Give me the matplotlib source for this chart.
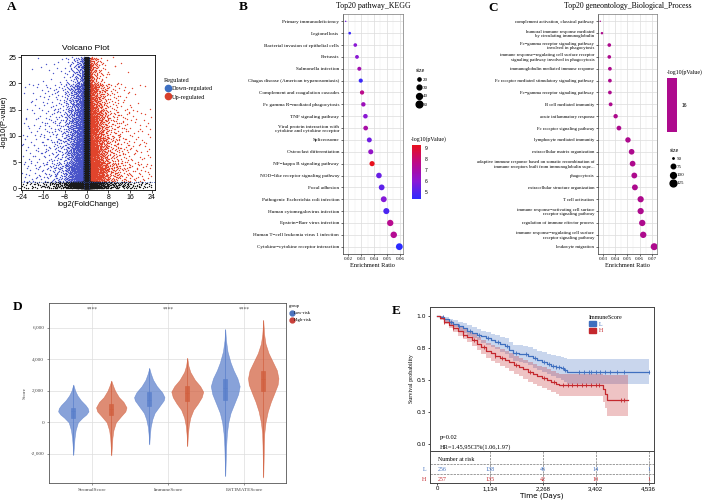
import numpy as np
import matplotlib

matplotlib.use("Agg")
import matplotlib.pyplot as plt
from matplotlib.cm import ScalarMappable
from matplotlib.colors import LinearSegmentedColormap, ListedColormap, Normalize
from matplotlib.font_manager import FontProperties
from matplotlib.lines import Line2D
from matplotlib.patches import Patch
from matplotlib.ticker import FuncFormatter, FormatStrFormatter, MultipleLocator

SERIF = ["Liberation Serif", "DejaVu Serif"]
SANS = ["Liberation Sans", "DejaVu Sans"]
plt.rcParams["font.family"] = SANS

# ---------------- A: volcano, point counts per (log2FC, -log10 p) cell
fc_edges = [-24, -20, -16, -12, -8, -6, -4, -2, -1, 1, 2, 4, 6, 8, 12, 16, 20, 24]
p_edges = [0, 1.3, 5, 10, 15, 20, 25]
volcano_counts = [
    [12, 12, 12, 8, 6, 1],
    [15, 15, 15, 12, 10, 3],
    [25, 25, 25, 20, 15, 4],
    [40, 50, 45, 35, 25, 8],
    [40, 60, 55, 45, 35, 12],
    [60, 110, 100, 80, 60, 25],
    [120, 220, 190, 150, 110, 55],
    [150, 200, 180, 160, 120, 60],
    [700, 800, 600, 500, 420, 300],
    [150, 230, 210, 180, 140, 70],
    [120, 240, 210, 170, 130, 60],
    [60, 130, 115, 95, 65, 22],
    [40, 80, 70, 55, 35, 8],
    [40, 70, 60, 45, 28, 5],
    [30, 35, 30, 22, 12, 2],
    [20, 20, 16, 12, 5, 0],
    [15, 14, 12, 8, 2, 0],
]

# ---------------- B: KEGG
kegg_terms = [
    "Primary immunodeficiency",
    "Legionellosis",
    "Bacterial invasion of epithelial cells",
    "Pertussis",
    "Salmonella infection",
    "Chagas disease (American trypanosomiasis)",
    "Complement and coagulation cascades",
    "Fc gamma R\u2212mediated phagocytosis",
    "TNF signaling pathway",
    "Viral protein interaction with\ncytokine and cytokine receptor",
    "Spliceosome",
    "Osteoclast differentiation",
    "NF\u2212kappa B signaling pathway",
    "NOD\u2212like receptor signaling pathway",
    "Focal adhesion",
    "Pathogenic Escherichia coli infection",
    "Human cytomegalovirus infection",
    "Epstein\u2212Barr virus infection",
    "Human T\u2212cell leukemia virus 1 infection",
    "Cytokine\u2212cytokine receptor interaction",
]
kegg_ratio = [0.0182, 0.0213, 0.0256, 0.0269, 0.0287, 0.0298, 0.0308, 0.0318, 0.0334, 0.0336,
              0.0364, 0.0375, 0.0385, 0.0438, 0.0459, 0.0475, 0.0495, 0.0525, 0.0552, 0.0595]
kegg_count = [16, 18, 22, 23, 24, 25, 26, 27, 28, 29, 31, 32, 33, 37, 39, 40, 42, 45, 47, 51]
kegg_logp = [5.6, 4.6, 6.0, 6.0, 6.8, 4.6, 7.6, 6.6, 6.0, 7.0,
             5.5, 6.3, 9.25, 5.4, 5.2, 5.9, 4.9, 7.5, 7.4, 4.35]

# ---------------- C: GO biological process
go_terms = [
    "complement activation, classical pathway",
    "humoral immune response mediated\nby circulating immunoglobulin",
    "Fc\u2212gamma receptor signaling pathway\ninvolved in phagocytosis",
    "immune response\u2212regulating cell surface receptor\nsignaling pathway involved in phagocytosis",
    "immunoglobulin mediated immune response",
    "Fc receptor mediated stimulatory signaling pathway",
    "Fc\u2212gamma receptor signaling pathway",
    "B cell mediated immunity",
    "acute inflammatory response",
    "Fc receptor signaling pathway",
    "lymphocyte mediated immunity",
    "extracellular matrix organization",
    "adaptive immune response based on somatic recombination of\nimmune receptors built from immunoglobulin supe...",
    "phagocytosis",
    "extracellular structure organization",
    "T cell activation",
    "immune response\u2212activating cell surface\nreceptor signaling pathway",
    "regulation of immune effector process",
    "immune response\u2212regulating cell surface\nreceptor signaling pathway",
    "leukocyte migration",
]
go_ratio = [0.0278, 0.0292, 0.0352, 0.0352, 0.0357, 0.0357, 0.0357, 0.0363, 0.0404, 0.0431,
            0.0505, 0.0535, 0.0543, 0.0557, 0.0562, 0.0609, 0.0609, 0.0622, 0.0630, 0.0720]
go_count = [50, 53, 63, 63, 64, 64, 64, 65, 73, 78, 91, 96, 98, 100, 101, 110, 110, 112, 113, 130]

# ---------------- D: ESTIMATE violins (score level, half width in category units)
score_names = ["StromalScore", "ImmuneScore", "ESTIMATEScore"]
stromal_low_y = [-2050, -1500, -1000, -500, 0, 300, 500, 700, 900, 1100, 1400, 1700, 2000, 2400]
stromal_low_w = [0, 0.008, 0.016, 0.03, 0.06, 0.12, 0.17, 0.2, 0.19, 0.16, 0.1, 0.055, 0.025, 0]
stromal_high_y = [-2100, -1500, -1000, -500, 0, 400, 700, 950, 1300, 1600, 2000, 2300, 2650]
stromal_high_w = [0, 0.008, 0.014, 0.028, 0.06, 0.13, 0.185, 0.2, 0.16, 0.1, 0.05, 0.025, 0]
immune_low_y = [-1400, -800, -300, 200, 600, 1000, 1400, 1600, 1900, 2300, 2700, 3100, 3450]
immune_low_w = [0, 0.008, 0.018, 0.04, 0.07, 0.13, 0.19, 0.2, 0.17, 0.1, 0.05, 0.02, 0]
immune_high_y = [-1500, -800, -200, 300, 800, 1200, 1600, 1950, 2300, 2700, 3200, 3600, 4100]
immune_high_w = [0, 0.008, 0.02, 0.04, 0.08, 0.14, 0.19, 0.21, 0.17, 0.1, 0.04, 0.015, 0]
estimate_low_y = [-3400, -2500, -1500, -700, 0, 600, 1200, 1800, 2300, 2800, 3300, 3800, 4500, 5200, 5900]
estimate_low_w = [0, 0.006, 0.012, 0.022, 0.04, 0.07, 0.12, 0.17, 0.19, 0.16, 0.11, 0.07, 0.03, 0.01, 0]
estimate_high_y = [-3500, -2500, -1500, -700, 0, 700, 1300, 1900, 2400, 2800, 3300, 3800, 4400, 5000,
                   5600, 6500]
estimate_high_w = [0, 0.005, 0.009, 0.014, 0.03, 0.06, 0.1, 0.15, 0.19, 0.2, 0.18, 0.13, 0.07, 0.03,
                   0.012, 0]
low_q1 = [300, 1020, 1440]
low_med = [700, 1440, 2180]
low_q3 = [900, 1900, 2780]
high_q1 = [490, 1330, 2020]
high_med = [850, 1860, 2770]
high_q3 = [1180, 2330, 3290]

# ---------------- E: Kaplan-Meier
t_L = [0, 60, 150, 250, 350, 450, 550, 650, 750, 850, 950, 1050, 1150, 1250, 1350, 1450, 1550, 1620,
       1750, 1850, 1950, 2050, 2150, 2250, 2350, 2450, 2550, 2650, 2720, 2780, 4536]
s_L = [1.0, 0.99, 0.975, 0.955, 0.94, 0.92, 0.905, 0.885, 0.87, 0.855, 0.84, 0.825, 0.81, 0.795, 0.78,
       0.765, 0.735, 0.71, 0.705, 0.70, 0.685, 0.67, 0.655, 0.64, 0.625, 0.61, 0.60, 0.59, 0.575, 0.565,
       0.565]
lo_L = [1.0, 0.975, 0.955, 0.93, 0.91, 0.885, 0.865, 0.845, 0.825, 0.81, 0.79, 0.775, 0.755, 0.74, 0.72,
        0.705, 0.67, 0.645, 0.64, 0.63, 0.615, 0.595, 0.58, 0.56, 0.545, 0.53, 0.515, 0.5, 0.485, 0.47,
        0.47]
hi_L = [1.0, 1.0, 0.995, 0.98, 0.97, 0.955, 0.945, 0.93, 0.915, 0.9, 0.885, 0.875, 0.86, 0.85, 0.835,
        0.825, 0.795, 0.775, 0.77, 0.765, 0.755, 0.74, 0.73, 0.72, 0.705, 0.695, 0.685, 0.68, 0.67, 0.665,
        0.665]
cens_L = [120, 300, 480, 700, 900, 1100, 1300, 1500, 1700, 1900, 2100, 2300, 2400, 2480, 2560, 2620,
          2700, 2750, 3050, 3150, 3250, 3300, 3400, 3500, 3600, 3700, 3850, 4000, 4536]

t_H = [0, 60, 150, 250, 350, 450, 550, 650, 750, 850, 950, 1050, 1150, 1250, 1350, 1450, 1550, 1650,
       1750, 1850, 1950, 2050, 2150, 2250, 2350, 2450, 2550, 2620, 3558, 3600, 3637, 4086]
s_H = [1.0, 0.985, 0.955, 0.93, 0.905, 0.88, 0.855, 0.835, 0.81, 0.785, 0.755, 0.73, 0.71, 0.69, 0.675,
       0.66, 0.64, 0.615, 0.60, 0.585, 0.56, 0.545, 0.53, 0.515, 0.50, 0.485, 0.47, 0.46, 0.43, 0.39,
       0.345, 0.345]
lo_H = [1.0, 0.97, 0.935, 0.905, 0.875, 0.845, 0.82, 0.795, 0.765, 0.735, 0.705, 0.675, 0.65, 0.63,
        0.61, 0.595, 0.57, 0.545, 0.53, 0.51, 0.485, 0.47, 0.45, 0.435, 0.42, 0.405, 0.39, 0.375, 0.33,
        0.28, 0.22, 0.22]
hi_H = [1.0, 1.0, 0.98, 0.96, 0.94, 0.92, 0.9, 0.88, 0.86, 0.835, 0.81, 0.79, 0.77, 0.755, 0.74,
        0.725, 0.71, 0.69, 0.675, 0.66, 0.64, 0.625, 0.61, 0.6, 0.585, 0.57, 0.555, 0.545, 0.54, 0.54,
        0.54, 0.54]
cens_H = [150, 350, 550, 800, 1000, 1250, 1400, 1700, 2000, 2300, 2500, 2700, 2800, 2900, 3000, 3100,
          3200, 3300, 3400, 3480, 3950, 4000]
risk_times = [0, 1134, 2268, 3402, 4536]
risk_L = [256, 138, 46, 14, 1]
risk_H = [257, 135, 42, 10, 1]

W, H = 708, 503


def frac_box(l, t, r, b):
    return [l / W, 1 - b / H, (r - l) / W, (b - t) / H]


def fx(px):
    return px / W


def fy(py):
    return 1 - py / H


def halton(n, base, start):
    out = np.empty(n)
    for i in range(n):
        f, r, k = 1.0, 0.0, i + start
        while k > 0:
            f /= base
            r += f * (k % base)
            k //= base
        out[i] = r
    return out


def dot_size(counts, n_lo, n_hi, d_lo, d_hi):
    r = np.clip((np.asarray(counts, float) - n_lo) / (n_hi - n_lo), 0, 1)
    d_px = d_lo + (d_hi - d_lo) * np.sqrt(r)
    return d_px * 0.72


fig = plt.figure(figsize=(W / 100, H / 100), dpi=100)

for letter, x, y in [("A", 6.5, 7), ("B", 239, 7.3), ("C", 488, 8.3), ("D", 12.7, 306.7), ("E", 392, 311)]:
    fig.text(fx(x), fy(y), letter, ha="left", va="center", fontsize=9.5, fontweight="bold", family=SERIF)

# ======================= A
BLUE_V, RED_V = "#4a55c9", "#e0442c"
ax = fig.add_axes(frac_box(20.7, 55, 155, 189.5))
pts = {"down": ([], []), "up": ([], []), "ns": ([], [])}
cell = 0
for i in range(len(fc_edges) - 1):
    for j in range(len(p_edges) - 1):
        cell += 1
        n = volcano_counts[i][j]
        if n == 0:
            continue
        hx = halton(n, 2, cell * 53 + 1)
        hy = halton(n, 3, cell * 53 + 1)
        x = fc_edges[i] + (fc_edges[i + 1] - fc_edges[i]) * hx
        y = p_edges[j] + (p_edges[j + 1] - p_edges[j]) * hy
        mid = 0.5 * (fc_edges[i] + fc_edges[i + 1])
        if p_edges[j] < 1.3 or abs(mid) < 1:
            key = "ns"
        elif mid < 0:
            key = "down"
        else:
            key = "up"
        pts[key][0].extend(x)
        pts[key][1].extend(y)
ax.scatter(*pts["down"], s=1.0, color=BLUE_V, linewidths=0, rasterized=True)
ax.scatter(*pts["up"], s=1.0, color=RED_V, linewidths=0, rasterized=True)
ax.scatter(*pts["ns"], s=1.0, color="#1a1a1a", linewidths=0, rasterized=True)
ax.axhline(1.3, ls=":", color="#3050c0", lw=0.6)
for v in (-1, 1):
    ax.axvline(v, ls=":", color="#3050c0", lw=0.6)
ax.set_xlim(-24.4, 25.2)
ax.set_ylim(-0.2, 25.4)
ax.set_xticks([-24, -16, -8, 0, 8, 16, 24])
ax.set_yticks([0, 5, 10, 15, 20, 25])
ax.tick_params(labelsize=5, length=2, width=0.5, pad=1)
for s in ax.spines.values():
    s.set_linewidth(0.6)
ax.set_xlabel("log2(FoldChange)", fontsize=5.5, labelpad=0.5)
ax.set_ylabel("-log10(P-value)", fontsize=5.5, labelpad=1)
fig.text(fx(86), fy(48), "Volcano Plot", ha="center", va="center", fontsize=6)
fig.legend(
    handles=[Line2D([], [], marker="o", ls="", color="#3d6fc2", ms=4.5),
             Line2D([], [], marker="o", ls="", color="#d7402c", ms=4.5)],
    labels=["Down-regulated", "Up-regulated"], title="Regulated",
    loc="upper left", bbox_to_anchor=(fx(161), fy(75)), frameon=False,
    prop=FontProperties(family=SERIF, size=4.5), title_fontproperties=FontProperties(family=SERIF, size=4.5),
    alignment="left", handletextpad=0.1, labelspacing=0.45, borderpad=0, handlelength=1.2,
)

# ======================= B
cmap_b = LinearSegmentedColormap.from_list(
    "kegg", [(0, "#2b2bff"), (0.33, "#8a18d6"), (0.5, "#a20eb0"), (0.68, "#be0a86"), (1, "#e8101c")])
GO_COLOR = "#ad0a8d"


def dotplot(box, terms, ratio, sizes, colors, xlim, xticks, label_fs, **kw):
    a = fig.add_axes(frac_box(*box))
    ypos = np.arange(len(terms))[::-1]
    sc = a.scatter(ratio, ypos, s=np.asarray(sizes) ** 2, c=colors, linewidths=0, zorder=3, **kw)
    a.set_yticks(ypos)
    a.set_yticklabels(terms, family=SERIF, fontsize=label_fs, linespacing=1.12)
    a.set_ylim(-0.6, len(terms) - 0.4)
    a.set_xlim(*xlim)
    a.set_xticks(xticks)
    a.xaxis.set_minor_locator(MultipleLocator(0.005))
    a.xaxis.set_major_formatter(FormatStrFormatter("%.2f"))
    a.grid(which="major", color="#dcdcdc", lw=0.5)
    a.grid(which="minor", axis="x", color="#ededed", lw=0.35)
    a.set_axisbelow(True)
    a.tick_params(axis="both", which="major", labelsize=3.6, length=1.5, width=0.4, pad=1)
    a.tick_params(axis="y", labelsize=label_fs)
    a.tick_params(axis="x", which="minor", length=0)
    for t in a.get_xticklabels():
        t.set_family(SERIF)
    for side, s in a.spines.items():
        s.set_linewidth(0.5)
        s.set_color("#333333" if side in ("left", "bottom") else "#777777")
    a.set_xlabel("Enrichment Ratio", family=SERIF, fontsize=4.5, labelpad=1)
    return a, sc


axb, scb = dotplot((342.7, 14.2, 402.7, 253.8), kegg_terms, kegg_ratio,
                   dot_size(kegg_count, min(kegg_count), max(kegg_count), 1.4, 6.8), kegg_logp,
                   (0.0159, 0.0621), [0.02, 0.03, 0.04, 0.05, 0.06], 3.7,
                   cmap=cmap_b, norm=Normalize(min(kegg_logp), max(kegg_logp)))
fig.text(fx(373.5), fy(5.5), "Top20 pathway_KEGG", ha="center", va="center", family=SERIF, fontsize=5.7)
cax = fig.add_axes(frac_box(412.3, 145, 420.7, 199.3))
cb = fig.colorbar(scb, cax=cax, ticks=[5, 6, 7, 8, 9])
cb.outline.set_visible(False)
cax.tick_params(labelsize=3.6, length=1.5, width=0.4, color="white", pad=1.5)
fig.text(fx(411), fy(139), "-log10(pValue)", ha="left", va="center", family=SERIF, fontsize=4.2)
b_sizes = [20, 30, 40, 50]
fig.legend(
    handles=[Line2D([], [], marker="o", ls="", color="black", ms=m)
             for m in dot_size(b_sizes, min(kegg_count), max(kegg_count), 1.4, 6.8)],
    labels=[str(v) for v in b_sizes], title="size", loc="upper left",
    bbox_to_anchor=(fx(413), fy(66)), frameon=False,
    prop=FontProperties(family=SERIF, size=3.6), title_fontproperties=FontProperties(family=SERIF, size=4.2),
    alignment="left", handletextpad=0.3, labelspacing=0.75, borderpad=0, handlelength=1.2,
)

# ======================= C
axc, scc = dotplot((597.7, 14.2, 657, 253.8), go_terms, go_ratio,
                   dot_size(go_count, min(go_count), max(go_count), 1.4, 7.0), GO_COLOR,
                   (0.0257, 0.0743), [0.03, 0.04, 0.05, 0.06, 0.07], 3.45)
fig.text(fx(628), fy(6), "Top20 geneontology_Biological_Process", ha="center", va="center",
         family=SERIF, fontsize=5.6)
cax2 = fig.add_axes(frac_box(667, 77.7, 677.3, 131.7))
cb2 = fig.colorbar(ScalarMappable(norm=Normalize(15.5, 16.5), cmap=ListedColormap([GO_COLOR])),
                   cax=cax2, ticks=[16])
cb2.outline.set_visible(False)
cax2.tick_params(labelsize=3.6, length=1.5, width=0.4, color="white", pad=1.5)
fig.text(fx(667), fy(71.7), "-log10(pValue)", ha="left", va="center", family=SERIF, fontsize=4.2)
c_sizes = [50, 75, 100, 125]
fig.legend(
    handles=[Line2D([], [], marker="o", ls="", color="black", ms=m)
             for m in dot_size(c_sizes, min(go_count), max(go_count), 1.4, 7.0)],
    labels=[str(v) for v in c_sizes], title="size", loc="upper left",
    bbox_to_anchor=(fx(667), fy(145)), frameon=False,
    prop=FontProperties(family=SERIF, size=3.6), title_fontproperties=FontProperties(family=SERIF, size=4.2),
    alignment="left", handletextpad=0.3, labelspacing=0.75, borderpad=0, handlelength=1.2,
)

# ======================= D
BLUE_D, RED_D = "#5a7fcb", "#d2603f"
axd = fig.add_axes(frac_box(49, 303, 286, 483))
centers = np.arange(len(score_names))
low_shapes = [(stromal_low_y, stromal_low_w), (immune_low_y, immune_low_w), (estimate_low_y, estimate_low_w)]
high_shapes = [(stromal_high_y, stromal_high_w), (immune_high_y, immune_high_w),
               (estimate_high_y, estimate_high_w)]
for shapes, off, col, q1, med, q3 in [(low_shapes, -0.25, BLUE_D, low_q1, low_med, low_q3),
                                      (high_shapes, 0.25, RED_D, high_q1, high_med, high_q3)]:
    stats = [dict(coords=np.array(yv, float), vals=np.array(wv, float), mean=m, median=m,
                  min=yv[0], max=yv[-1]) for (yv, wv), m in zip(shapes, med)]
    parts = axd.violin(stats, positions=centers + off, widths=[2 * max(wv) for _, wv in shapes],
                       showextrema=False)
    for body in parts["bodies"]:
        body.set_facecolor(col)
        body.set_edgecolor(col)
        body.set_alpha(0.72)
        body.set_linewidth(0.4)
        body.set_zorder(2)
    axd.vlines(centers + off, [yv[0] for yv, _ in shapes], [yv[-1] for yv, _ in shapes],
               color=col, lw=0.5, zorder=3)
    axd.bar(centers + off, np.array(q3) - np.array(q1), bottom=q1, width=0.05, color=col,
            edgecolor=col, alpha=0.85, lw=0.5, zorder=4)
    axd.hlines(med, centers + off - 0.025, centers + off + 0.025, color=col, lw=0.5, zorder=5)
for c in centers:
    axd.text(c, 7200, "****", ha="center", va="center", fontsize=4, family=SERIF, color="#444444")
axd.set_xlim(-0.57, 2.55)
axd.set_ylim(-3850, 7580)
axd.set_xticks(centers)
axd.set_xticklabels(score_names, family=SERIF, fontsize=3.8)
axd.set_yticks([-2000, 0, 2000, 4000, 6000])
axd.yaxis.set_major_formatter(FuncFormatter(lambda v, p: f"{v:,.0f}"))
for t in axd.get_yticklabels():
    t.set_family(SERIF)
axd.tick_params(labelsize=3.8, length=1.5, width=0.4, pad=2, colors="#444444")
axd.grid(color="#dddddd", lw=0.5)
axd.set_axisbelow(True)
for s in axd.spines.values():
    s.set_linewidth(0.6)
    s.set_color("#555555")
axd.set_ylabel("Score", family=SERIF, fontsize=3.8, labelpad=3, color="#444444")
fig.legend(
    handles=[Line2D([], [], marker="o", ls="", color="#4a72bd", ms=3.5),
             Line2D([], [], marker="o", ls="", color="#c8403a", ms=3.5)],
    labels=["Low-risk", "High-risk"], title="group", loc="upper left",
    bbox_to_anchor=(fx(287), fy(302)), frameon=False,
    prop=FontProperties(family=SERIF, size=3.3), title_fontproperties=FontProperties(family=SERIF, size=3.3),
    alignment="left", handletextpad=0.1, labelspacing=0.6, borderpad=0, handlelength=1.0,
)

# ======================= E
BLUE_E, RED_E = "#3f6fbf", "#c4282e"
axe = fig.add_axes(frac_box(430, 307, 654, 450.7))
for t, s, lo, hi, cens, col in [(t_L, s_L, lo_L, hi_L, cens_L, BLUE_E), (t_H, s_H, lo_H, hi_H, cens_H, RED_E)]:
    axe.fill_between(t, lo, hi, step="post", color=col, alpha=0.28, lw=0)
    axe.step(t, s, where="post", color=col, lw=0.9)
    idx = np.searchsorted(t, cens, side="right") - 1
    axe.plot(cens, np.asarray(s)[idx], ls="", marker="|", ms=3, mew=0.6, color=col)
axe.set_xlim(-150, 4650)
axe.set_ylim(-0.052, 1.07)
axe.set_yticks([0, 0.25, 0.5, 0.75, 1.0])
axe.set_yticklabels(["0.0", "0.3", "0.5", "0.8", "1.0"])
axe.set_xticks(risk_times)
axe.tick_params(axis="x", labelbottom=False, length=0)
axe.tick_params(axis="y", labelsize=4.3, length=1.5, width=0.5, pad=1.5)
for t in axe.get_yticklabels():
    t.set_family(["DejaVu Sans"])
for s in axe.spines.values():
    s.set_linewidth(0.7)
    s.set_color("#444444")
axe.set_ylabel("Survival probability", family=SERIF, fontsize=4.3, labelpad=2)
axe.text(70, 0.05, "p=0.02", family=SERIF, fontsize=4.6, va="center")
axe.text(70, -0.026, "HR=1.45,95CI%(1.06,1.97)", family=SERIF, fontsize=4.6, va="center")
leg = axe.legend(
    handles=[Patch(color=BLUE_E), Patch(color=RED_E)], labels=["L", "H"], title="ImmuneScore",
    loc="upper left", bbox_to_anchor=(fx(586), fy(312)), bbox_transform=fig.transFigure, frameon=False,
    prop=FontProperties(family=SERIF, size=4.3), title_fontproperties=FontProperties(family=SERIF, size=4.3),
    alignment="left", handletextpad=0.5, labelspacing=0.2, borderpad=0, handlelength=1.1, handleheight=0.9,
)
for txt, col in zip(leg.get_texts(), [BLUE_E, RED_E]):
    txt.set_color(col)

axt = fig.add_axes(frac_box(430, 450.7, 654, 483))
axt.set_xlim(-150, 4650)
axt.set_ylim(0, 1)
axt.set_yticks([])
axt.set_xticks(risk_times)
axt.xaxis.set_major_formatter(FuncFormatter(lambda v, p: f"{v:,.0f}"))
axt.tick_params(axis="x", labelsize=4.3, length=1.5, width=0.5, pad=1)
for s in axt.spines.values():
    s.set_linewidth(0.7)
    s.set_color("#444444")
axt.axhline(0.598, ls="--", color="#666666", lw=0.45)
axt.axhline(0.279, ls="--", color="#666666", lw=0.45)
axt.vlines(risk_times[1:], 0, 1, linestyles="--", colors="#666666", lw=0.45)
axt.text(20, 0.743, "Number at risk", family=SERIF, fontsize=4.3, va="center")
for row_y, vals, col, lab in [(0.424, risk_L, BLUE_E, "L"), (0.115, risk_H, RED_E, "H")]:
    axt.text(-230, row_y, lab, family=SERIF, fontsize=4.3, va="center", ha="right", color=col)
    for k, (tx, v) in enumerate(zip(risk_times, vals)):
        axt.text(tx + (20 if k == 0 else 0), row_y, str(v), family=SERIF, fontsize=4.3, va="center",
                 ha="left" if k == 0 else "center", color=col)
axt.set_xlabel("Time (Days)", fontsize=5.2, labelpad=0.5, family=["DejaVu Sans"])

fig.savefig("out.png", dpi=100)
